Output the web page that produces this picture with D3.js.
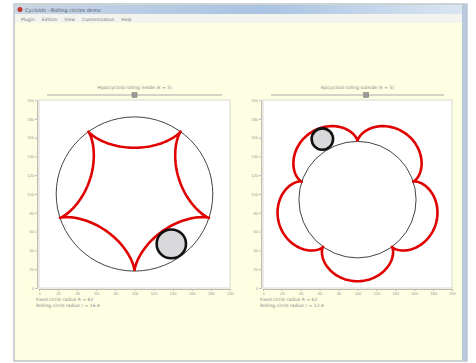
<!DOCTYPE html>
<html>
<head>
<meta charset="utf-8">
<script src="https://cdn.jsdelivr.net/npm/d3@7"></script>
<style>
  body { margin: 0; background: #fff; }
  svg { display: block; font-family: "DejaVu Sans", sans-serif; }
</style>
</head>
<body>
<script>
// Data
var panelTitles = ["Hypocycloid rolling inside (k = 5)", "Epicycloid rolling outside (k = 5)"];
var noteLines = [
  ["Fixed circle radius R = 82", "Rolling circle radius r = 16.4"],
  ["Fixed circle radius R = 62", "Rolling circle radius r = 12.4"]
];
var xTicks = [0, 20, 40, 60, 80, 100, 120, 140, 160, 180, 200];
var yTicks = [0, 20, 40, 60, 80, 100, 120, 140, 160, 180, 200];
var centerX = [100, 100];
var centerY = [100, 94];
var fixedRadius = [82, 62];
var rollingRadius = [16.4, 12.4];
var firstCusp = [-90, 90]; // degrees
var rollAngle = [-54, 120]; // degrees, where the rolling circle sits now
var sliderValue = [0.5, 0.55];
var menuItems = ["Plugin", "Edition", "View", "Customization", "Help"];

var W = 476, H = 363;
var svg = d3.select("body").append("svg").attr("width", W).attr("height", H);

// window frame
svg.append("rect").attr("x", 14).attr("y", 4).attr("width", 453).attr("height", 357)
  .attr("fill", "#fefee2").attr("stroke", "#9aa7b8");
var grad = svg.append("defs").append("linearGradient").attr("id", "tb");
grad.append("stop").attr("offset", "0%").attr("stop-color", "#c9d6e6");
grad.append("stop").attr("offset", "55%").attr("stop-color", "#a9c3e2");
grad.append("stop").attr("offset", "100%").attr("stop-color", "#dbe6f2");
svg.append("rect").attr("x", 15).attr("y", 5).attr("width", 451).attr("height", 9).attr("fill", "url(#tb)");
svg.append("circle").attr("cx", 20).attr("cy", 9.5).attr("r", 2.5).attr("fill", "#c0392b");
svg.append("text").attr("x", 25).attr("y", 11.5).attr("font-size", 5).attr("fill", "#556")
  .text("Cycloids - Rolling circles demo");
svg.append("rect").attr("x", 15).attr("y", 14).attr("width", 451).attr("height", 9).attr("fill", "#f4f4ee");
var mx = 21;
menuItems.forEach(function (m) {
  var t = svg.append("text").attr("x", mx).attr("y", 20.5).attr("font-size", 4.5).attr("fill", "#777").text(m);
  mx += t.node().getComputedTextLength() + 7;
});
svg.append("rect").attr("x", 462).attr("y", 4).attr("width", 5).attr("height", 357).attr("fill", "#b9c9dc");

var panels = [
  { x0: 39, x1: 230, y0: 100, y1: 288 },
  { x0: 263, x1: 452, y0: 100, y1: 288 }
];

var rad = Math.PI / 180;

panels.forEach(function (p, i) {
  var x = d3.scaleLinear().domain([0, 200]).range([p.x0, p.x1]);
  var y = d3.scaleLinear().domain([0, 200]).range([p.y1, p.y0]);
  var g = svg.append("g");

  // plot area
  g.append("rect").attr("x", p.x0).attr("y", p.y0).attr("width", p.x1 - p.x0).attr("height", p.y1 - p.y0)
    .attr("fill", "#fff").attr("stroke", "#d8d8d0");

  // title + slider
  var mid = (p.x0 + p.x1) / 2;
  g.append("text").attr("x", mid).attr("y", 89).attr("text-anchor", "middle")
    .attr("font-size", 4.5).attr("fill", "#888").text(panelTitles[i]);
  g.append("line").attr("x1", p.x0 + 8).attr("x2", p.x1 - 8).attr("y1", 95).attr("y2", 95)
    .attr("stroke", "#aaa").attr("stroke-width", 1);
  var sx = p.x0 + 8 + sliderValue[i] * (p.x1 - p.x0 - 16);
  g.append("rect").attr("x", sx - 2.5).attr("y", 92.5).attr("width", 5).attr("height", 5)
    .attr("fill", "#999").attr("stroke", "#777").attr("stroke-width", 0.5);

  // axes
  var ax = g.append("g").attr("transform", "translate(0," + (p.y1 + 1) + ")")
    .call(d3.axisBottom(x).tickValues(xTicks).tickSize(2).tickPadding(1));
  var ay = g.append("g").attr("transform", "translate(" + (p.x0 - 2) + ",0)")
    .call(d3.axisLeft(y).tickValues(yTicks).tickSize(2).tickPadding(1));
  [ax, ay].forEach(function (a) {
    a.selectAll("path,line").attr("stroke", "#bbb");
    a.selectAll("text").attr("font-size", 4).attr("fill", "#999");
  });

  // notes below
  noteLines[i].forEach(function (t, j) {
    g.append("text").attr("x", p.x0 - 3).attr("y", 301 + j * 6).attr("font-size", 4.5)
      .attr("fill", "#888").text(t);
  });

  var R = fixedRadius[i], r = rollingRadius[i];
  var cx = centerX[i], cy = centerY[i];
  var t0 = firstCusp[i] * rad;
  var inside = i === 0;
  var d = inside ? R - r : R + r;

  function pen(t) {
    var phi = inside ? t0 - ((R - r) / r) * (t - t0) : t0 + Math.PI + ((R + r) / r) * (t - t0);
    return [cx + d * Math.cos(t) + r * Math.cos(phi), cy + d * Math.sin(t) + r * Math.sin(phi)];
  }

  // fixed circle
  g.append("ellipse").attr("cx", x(cx)).attr("cy", y(cy))
    .attr("rx", x(cx + R) - x(cx)).attr("ry", y(cy) - y(cy + R))
    .attr("fill", "none").attr("stroke", "#444").attr("stroke-width", 1);

  // traced curve
  var pts = d3.range(0, 361, 1).map(function (a) { return pen(t0 + a * rad); });
  g.append("path").attr("d", d3.line().x(function (q) { return x(q[0]); }).y(function (q) { return y(q[1]); })(pts))
    .attr("fill", "none").attr("stroke", "#e00000").attr("stroke-width", 2.6).attr("stroke-linejoin", "round");

  // rolling circle
  var ta = rollAngle[i] * rad;
  var rc = [cx + d * Math.cos(ta), cy + d * Math.sin(ta)];
  g.append("ellipse").attr("cx", x(rc[0])).attr("cy", y(rc[1]))
    .attr("rx", x(rc[0] + r) - x(rc[0]) - 1).attr("ry", y(rc[1]) - y(rc[1] + r) - 1)
    .attr("fill", "#d9d9dc").attr("stroke", "#111").attr("stroke-width", 2.6);
});
</script>
</body>
</html>
